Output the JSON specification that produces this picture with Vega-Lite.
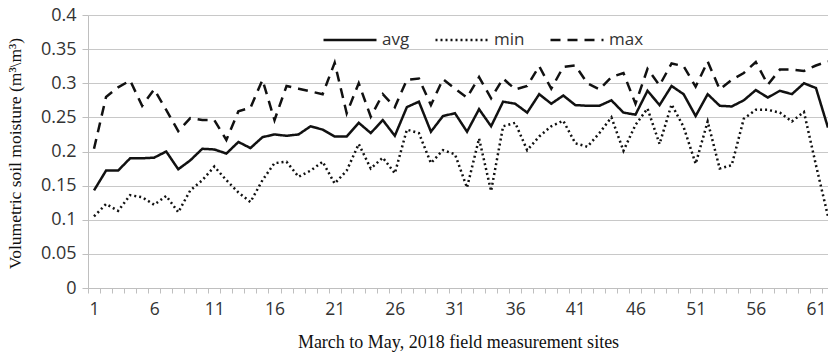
{
  "$schema": "https://vega.github.io/schema/vega-lite/v6.json",
  "autosize": {"type": "none"},
  "width": 740,
  "height": 273,
  "padding": {"left": 88, "top": 15, "right": 0, "bottom": 69},
  "background": "white",
  "config": {"view": {"stroke": null}},
  "data": {"values": [
    {"site":1,"series":"avg","value":0.143},{"site":1,"series":"min","value":0.105},{"site":1,"series":"max","value":0.204},
    {"site":2,"series":"avg","value":0.172},{"site":2,"series":"min","value":0.123},{"site":2,"series":"max","value":0.28},
    {"site":3,"series":"avg","value":0.172},{"site":3,"series":"min","value":0.113},{"site":3,"series":"max","value":0.294},
    {"site":4,"series":"avg","value":0.19},{"site":4,"series":"min","value":0.136},{"site":4,"series":"max","value":0.304},
    {"site":5,"series":"avg","value":0.19},{"site":5,"series":"min","value":0.133},{"site":5,"series":"max","value":0.267},
    {"site":6,"series":"avg","value":0.191},{"site":6,"series":"min","value":0.122},{"site":6,"series":"max","value":0.291},
    {"site":7,"series":"avg","value":0.2},{"site":7,"series":"min","value":0.135},{"site":7,"series":"max","value":0.261},
    {"site":8,"series":"avg","value":0.174},{"site":8,"series":"min","value":0.111},{"site":8,"series":"max","value":0.23},
    {"site":9,"series":"avg","value":0.187},{"site":9,"series":"min","value":0.143},{"site":9,"series":"max","value":0.249},
    {"site":10,"series":"avg","value":0.204},{"site":10,"series":"min","value":0.158},{"site":10,"series":"max","value":0.246},
    {"site":11,"series":"avg","value":0.203},{"site":11,"series":"min","value":0.178},{"site":11,"series":"max","value":0.246},
    {"site":12,"series":"avg","value":0.197},{"site":12,"series":"min","value":0.158},{"site":12,"series":"max","value":0.217},
    {"site":13,"series":"avg","value":0.214},{"site":13,"series":"min","value":0.14},{"site":13,"series":"max","value":0.259},
    {"site":14,"series":"avg","value":0.205},{"site":14,"series":"min","value":0.126},{"site":14,"series":"max","value":0.264},
    {"site":15,"series":"avg","value":0.221},{"site":15,"series":"min","value":0.158},{"site":15,"series":"max","value":0.305},
    {"site":16,"series":"avg","value":0.225},{"site":16,"series":"min","value":0.183},{"site":16,"series":"max","value":0.246},
    {"site":17,"series":"avg","value":0.223},{"site":17,"series":"min","value":0.185},{"site":17,"series":"max","value":0.296},
    {"site":18,"series":"avg","value":0.225},{"site":18,"series":"min","value":0.163},{"site":18,"series":"max","value":0.292},
    {"site":19,"series":"avg","value":0.237},{"site":19,"series":"min","value":0.172},{"site":19,"series":"max","value":0.288},
    {"site":20,"series":"avg","value":0.232},{"site":20,"series":"min","value":0.185},{"site":20,"series":"max","value":0.284},
    {"site":21,"series":"avg","value":0.222},{"site":21,"series":"min","value":0.153},{"site":21,"series":"max","value":0.33},
    {"site":22,"series":"avg","value":0.222},{"site":22,"series":"min","value":0.172},{"site":22,"series":"max","value":0.256},
    {"site":23,"series":"avg","value":0.242},{"site":23,"series":"min","value":0.211},{"site":23,"series":"max","value":0.3},
    {"site":24,"series":"avg","value":0.227},{"site":24,"series":"min","value":0.175},{"site":24,"series":"max","value":0.251},
    {"site":25,"series":"avg","value":0.246},{"site":25,"series":"min","value":0.191},{"site":25,"series":"max","value":0.284},
    {"site":26,"series":"avg","value":0.223},{"site":26,"series":"min","value":0.168},{"site":26,"series":"max","value":0.265},
    {"site":27,"series":"avg","value":0.265},{"site":27,"series":"min","value":0.232},{"site":27,"series":"max","value":0.305},
    {"site":28,"series":"avg","value":0.273},{"site":28,"series":"min","value":0.227},{"site":28,"series":"max","value":0.307},
    {"site":29,"series":"avg","value":0.229},{"site":29,"series":"min","value":0.183},{"site":29,"series":"max","value":0.268},
    {"site":30,"series":"avg","value":0.252},{"site":30,"series":"min","value":0.202},{"site":30,"series":"max","value":0.306},
    {"site":31,"series":"avg","value":0.256},{"site":31,"series":"min","value":0.196},{"site":31,"series":"max","value":0.292},
    {"site":32,"series":"avg","value":0.229},{"site":32,"series":"min","value":0.147},{"site":32,"series":"max","value":0.279},
    {"site":33,"series":"avg","value":0.262},{"site":33,"series":"min","value":0.219},{"site":33,"series":"max","value":0.309},
    {"site":34,"series":"avg","value":0.237},{"site":34,"series":"min","value":0.142},{"site":34,"series":"max","value":0.278},
    {"site":35,"series":"avg","value":0.273},{"site":35,"series":"min","value":0.237},{"site":35,"series":"max","value":0.307},
    {"site":36,"series":"avg","value":0.27},{"site":36,"series":"min","value":0.242},{"site":36,"series":"max","value":0.291},
    {"site":37,"series":"avg","value":0.257},{"site":37,"series":"min","value":0.202},{"site":37,"series":"max","value":0.296},
    {"site":38,"series":"avg","value":0.284},{"site":38,"series":"min","value":0.222},{"site":38,"series":"max","value":0.325},
    {"site":39,"series":"avg","value":0.27},{"site":39,"series":"min","value":0.237},{"site":39,"series":"max","value":0.292},
    {"site":40,"series":"avg","value":0.282},{"site":40,"series":"min","value":0.245},{"site":40,"series":"max","value":0.324},
    {"site":41,"series":"avg","value":0.268},{"site":41,"series":"min","value":0.212},{"site":41,"series":"max","value":0.326},
    {"site":42,"series":"avg","value":0.267},{"site":42,"series":"min","value":0.207},{"site":42,"series":"max","value":0.3},
    {"site":43,"series":"avg","value":0.267},{"site":43,"series":"min","value":0.227},{"site":43,"series":"max","value":0.291},
    {"site":44,"series":"avg","value":0.275},{"site":44,"series":"min","value":0.25},{"site":44,"series":"max","value":0.309},
    {"site":45,"series":"avg","value":0.257},{"site":45,"series":"min","value":0.201},{"site":45,"series":"max","value":0.315},
    {"site":46,"series":"avg","value":0.254},{"site":46,"series":"min","value":0.239},{"site":46,"series":"max","value":0.27},
    {"site":47,"series":"avg","value":0.289},{"site":47,"series":"min","value":0.263},{"site":47,"series":"max","value":0.321},
    {"site":48,"series":"avg","value":0.268},{"site":48,"series":"min","value":0.211},{"site":48,"series":"max","value":0.297},
    {"site":49,"series":"avg","value":0.296},{"site":49,"series":"min","value":0.269},{"site":49,"series":"max","value":0.329},
    {"site":50,"series":"avg","value":0.284},{"site":50,"series":"min","value":0.236},{"site":50,"series":"max","value":0.325},
    {"site":51,"series":"avg","value":0.252},{"site":51,"series":"min","value":0.182},{"site":51,"series":"max","value":0.295},
    {"site":52,"series":"avg","value":0.284},{"site":52,"series":"min","value":0.244},{"site":52,"series":"max","value":0.332},
    {"site":53,"series":"avg","value":0.267},{"site":53,"series":"min","value":0.175},{"site":53,"series":"max","value":0.291},
    {"site":54,"series":"avg","value":0.266},{"site":54,"series":"min","value":0.18},{"site":54,"series":"max","value":0.305},
    {"site":55,"series":"avg","value":0.275},{"site":55,"series":"min","value":0.248},{"site":55,"series":"max","value":0.315},
    {"site":56,"series":"avg","value":0.29},{"site":56,"series":"min","value":0.261},{"site":56,"series":"max","value":0.331},
    {"site":57,"series":"avg","value":0.279},{"site":57,"series":"min","value":0.261},{"site":57,"series":"max","value":0.298},
    {"site":58,"series":"avg","value":0.289},{"site":58,"series":"min","value":0.257},{"site":58,"series":"max","value":0.32},
    {"site":59,"series":"avg","value":0.284},{"site":59,"series":"min","value":0.244},{"site":59,"series":"max","value":0.32},
    {"site":60,"series":"avg","value":0.3},{"site":60,"series":"min","value":0.258},{"site":60,"series":"max","value":0.318},
    {"site":61,"series":"avg","value":0.293},{"site":61,"series":"min","value":0.18},{"site":61,"series":"max","value":0.326},
    {"site":62,"series":"avg","value":0.235},{"site":62,"series":"min","value":0.105},{"site":62,"series":"max","value":0.332}
  ]},
  "mark": {"type": "line", "color": "#111111", "strokeWidth": 2.5, "clip": true},
  "encoding": {
    "x": {
      "field": "site", "type": "quantitative",
      "scale": {"domain": [0.5, 62], "nice": false, "zero": false},
      "axis": {
        "title": "March to May, 2018 field measurement sites",
        "titleFont": "Liberation Serif", "titleFontSize": 18, "titleFontWeight": "normal", "titleColor": "#111",
        "titleY": 54, "titleBaseline": "middle",
        "values": [0.5,1,1.5,2.5,3.5,4.5,5.5,6,6.5,7.5,8.5,9.5,10.5,11,11.5,12.5,13.5,14.5,15.5,16,16.5,17.5,18.5,19.5,20.5,21,21.5,22.5,23.5,24.5,25.5,26,26.5,27.5,28.5,29.5,30.5,31,31.5,32.5,33.5,34.5,35.5,36,36.5,37.5,38.5,39.5,40.5,41,41.5,42.5,43.5,44.5,45.5,46,46.5,47.5,48.5,49.5,50.5,51,51.5,52.5,53.5,54.5,55.5,56,56.5,57.5,58.5,59.5,60.5,61,61.5],
        "labelExpr": "datum.value % 1 === 0 ? datum.label : ''",
        "tickOpacity": {"condition": {"test": "datum.value % 1 === 0", "value": 0}, "value": 1},
        "labelOverlap": false, "labelFlush": false, "labelBound": false,
        "labelFont": "Open Sans", "labelFontSize": 17.5, "labelColor": "#333", "labelPadding": 7,
        "tickSize": 5, "tickColor": "#bfbfbf", "domainColor": "#bfbfbf", "grid": false
      }
    },
    "y": {
      "field": "value", "type": "quantitative",
      "scale": {"domain": [0, 0.4], "nice": false},
      "axis": {
        "title": "Volumetric  soil moisture (m³\\m³)",
        "titleFont": "Liberation Serif", "titleFontSize": 17.5, "titleFontWeight": "normal", "titleColor": "#111",
        "titleX": -73, "titleY": 138, "titleBaseline": "middle", "titleAngle": -90,
        "values": [0, 0.05, 0.1, 0.15, 0.2, 0.25, 0.3, 0.35, 0.4],
        "format": ".2~f",
        "labelFont": "Open Sans", "labelFontSize": 18, "labelColor": "#333", "labelPadding": 6,
        "tickSize": 6, "tickColor": "#bfbfbf", "domainColor": "#bfbfbf",
        "grid": true, "gridColor": "#c8c8c8", "gridWidth": 1
      }
    },
    "strokeDash": {
      "field": "series", "type": "nominal",
      "scale": {"domain": ["avg", "min", "max"], "range": [[1, 0], [2, 3], [10, 7]]},
      "legend": {
        "title": null, "orient": "none", "direction": "horizontal",
        "legendX": 234, "legendY": -3,
        "symbolType": "stroke", "symbolSize": 2809, "symbolStrokeWidth": 2.5, "symbolStrokeColor": "#111",
        "labelFont": "Open Sans", "labelFontSize": 17, "labelColor": "#333", "labelOffset": 4,
        "columnPadding": 20
      }
    }
  }
}
